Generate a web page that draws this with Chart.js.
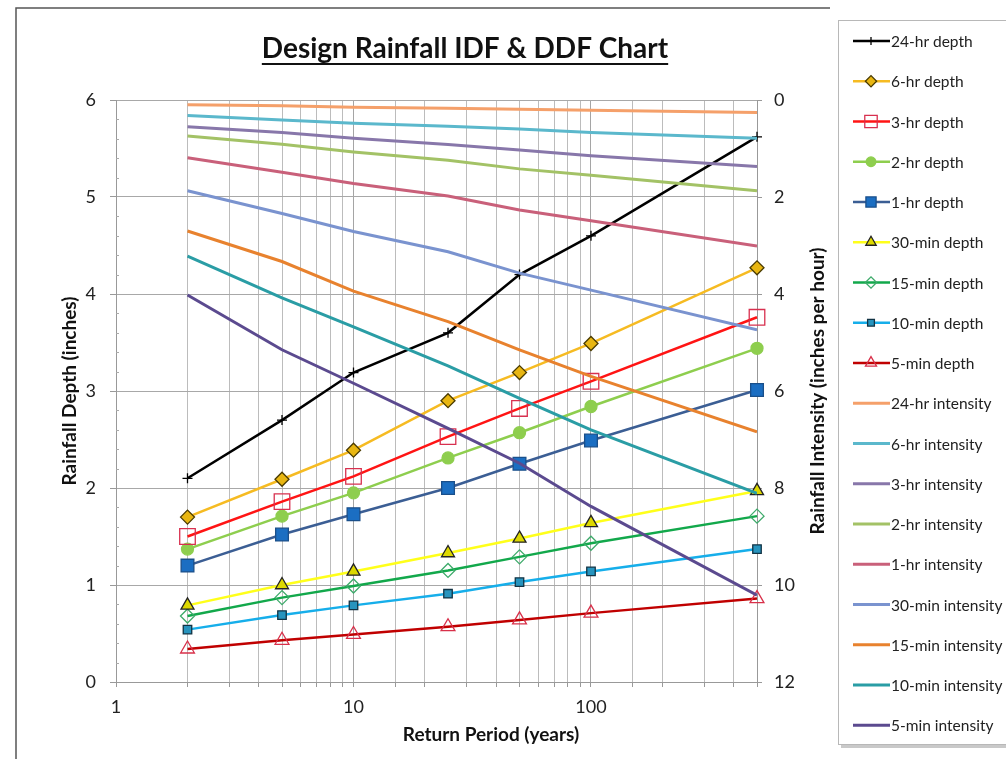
<!DOCTYPE html>
<html>
<head>
<meta charset="utf-8">
<script src="https://cdn.jsdelivr.net/npm/chart.js@4.4.1/dist/chart.umd.min.js"></script>
<style>
  html, body { margin: 0; padding: 0; background: #fff; }
  #wrap { position: relative; width: 1006px; height: 759px; }
</style>
</head>
<body>
<div id="wrap"><canvas id="idf" width="1006" height="759"></canvas></div>
<script>
// return periods (years) shared by every series
const returnPeriods = [2, 5, 10, 25, 50, 100, 500]
const xTickLabels = [1, 10, 100]

// rainfall depth (inches), left axis
const depth24hr = [2.1, 2.7, 3.19, 3.6, 4.2, 4.6, 5.62]
const depth6hr = [1.7, 2.09, 2.39, 2.9, 3.19, 3.49, 4.27]
const depth3hr = [1.5, 1.86, 2.12, 2.53, 2.82, 3.1, 3.76]
const depth2hr = [1.37, 1.71, 1.95, 2.31, 2.57, 2.84, 3.44]
const depth1hr = [1.2, 1.52, 1.73, 2.0, 2.25, 2.49, 3.01]
const depth30min = [0.79, 1.0, 1.14, 1.33, 1.48, 1.64, 1.97]
const depth15min = [0.68, 0.87, 0.99, 1.15, 1.29, 1.43, 1.71]
const depth10min = [0.54, 0.69, 0.79, 0.91, 1.03, 1.14, 1.37]
const depth5min = [0.34, 0.43, 0.49, 0.57, 0.64, 0.71, 0.86]

// rainfall intensity (inches per hour), right axis (reversed)
const int24hr = [0.1, 0.12, 0.15, 0.17, 0.19, 0.21, 0.26]
const int6hr = [0.32, 0.41, 0.48, 0.54, 0.6, 0.67, 0.79]
const int3hr = [0.55, 0.67, 0.79, 0.92, 1.03, 1.15, 1.37]
const int2hr = [0.74, 0.91, 1.07, 1.24, 1.42, 1.55, 1.87]
const int1hr = [1.19, 1.49, 1.72, 1.98, 2.27, 2.49, 3.01]
const int30min = [1.87, 2.34, 2.71, 3.13, 3.57, 3.92, 4.74]
const int15min = [2.7, 3.33, 3.94, 4.57, 5.15, 5.7, 6.84]
const int10min = [3.22, 4.08, 4.68, 5.48, 6.15, 6.8, 8.11]
const int5min = [4.02, 5.15, 5.84, 6.77, 7.49, 8.38, 10.21]

const FONT = 'Lato, "Open Sans", sans-serif'

function pts(arr) {
  return returnPeriods.map((p, i) => ({ x: p, y: arr[i] }))
}

function depthSet(label, values, line, style, radius, fill, border) {
  return {
    label: label,
    data: pts(values),
    yAxisID: 'y',
    order: 1,
    clip: 14,
    borderColor: line,
    borderWidth: 2.5,
    pointStyle: style,
    pointRadius: radius,
    pointBackgroundColor: fill,
    pointBorderColor: border,
    pointBorderWidth: 1.3
  }
}

function intensitySet(label, values, line) {
  return {
    label: label,
    data: pts(values),
    yAxisID: 'y2',
    order: 0,
    borderColor: line,
    borderWidth: 3,
    pointRadius: 0
  }
}

const datasets = [
  depthSet('24-hr depth', depth24hr, '#000000', 'cross', 5, '#000', '#000'),
  depthSet('6-hr depth', depth6hr, '#F6BB22', 'rectRot', 7, '#E8B612', '#4a3b00'),
  depthSet('3-hr depth', depth3hr, '#FF1414', 'rect', 11, 'rgba(255,255,255,0)', '#D8304F'),
  depthSet('2-hr depth', depth2hr, '#8ECE4E', 'circle', 6, '#8ECE4E', '#8ECE4E'),
  depthSet('1-hr depth', depth1hr, '#3B5E94', 'rect', 9, '#1B6EC2', '#1a4f8a'),
  depthSet('30-min depth', depth30min, '#FFFF1A', 'triangle', 7.5, '#DDD800', '#222'),
  depthSet('15-min depth', depth15min, '#12A84B', 'rectRot', 7, 'rgba(255,255,255,0)', '#3DAA6A'),
  depthSet('10-min depth', depth10min, '#16AEEA', 'rect', 6, '#2794BE', '#113344'),
  depthSet('5-min depth', depth5min, '#C00000', 'triangle', 8, 'rgba(255,255,255,0)', '#D8304A'),
  intensitySet('24-hr intensity', int24hr, '#F5A06A'),
  intensitySet('6-hr intensity', int6hr, '#5BB8CC'),
  intensitySet('3-hr intensity', int3hr, '#8877AA'),
  intensitySet('2-hr intensity', int2hr, '#A3C266'),
  intensitySet('1-hr intensity', int1hr, '#C9607A'),
  intensitySet('30-min intensity', int30min, '#7A93CF'),
  intensitySet('15-min intensity', int15min, '#E8822E'),
  intensitySet('10-min intensity', int10min, '#2A9DA5'),
  intensitySet('5-min intensity', int5min, '#5B4A8F')
]

// frame, title, axis titles and the boxed legend
const decor = {
  id: 'decor',
  afterDraw(chart) {
    const ctx = chart.ctx
    const area = chart.chartArea
    ctx.save()

    // outer chart frame (left + top)
    ctx.strokeStyle = '#555'
    ctx.lineWidth = 1.5
    ctx.beginPath()
    ctx.moveTo(16, 759)
    ctx.lineTo(16, 8)
    ctx.lineTo(830, 8)
    ctx.stroke()

    // minor ticks on the depth axis
    const yScale = chart.scales.y
    ctx.strokeStyle = '#aaa'
    ctx.lineWidth = 1
    for (let v = 0.2; v < 6; v += 0.2) {
      if (Math.abs(v - Math.round(v)) < 0.01) continue
      const py = Math.round(yScale.getPixelForValue(v)) + 0.5
      ctx.beginPath()
      ctx.moveTo(area.left, py)
      ctx.lineTo(area.left + 3, py)
      ctx.stroke()
    }

    // title, underlined
    ctx.fillStyle = '#111'
    ctx.font = 'bold 28px ' + FONT
    ctx.textAlign = 'center'
    ctx.textBaseline = 'alphabetic'
    const title = 'Design Rainfall IDF & DDF Chart'
    ctx.fillText(title, 465, 58)
    const tw = ctx.measureText(title).width
    ctx.fillRect(465 - tw / 2, 63, tw, 2)

    // axis titles
    ctx.font = 'bold 19px ' + FONT
    ctx.textBaseline = 'middle'
    ctx.fillText('Return Period (years)', 491, 735)
    ctx.save()
    ctx.translate(70, 391)
    ctx.rotate(-Math.PI / 2)
    ctx.fillText('Rainfall Depth (inches)', 0, 0)
    ctx.restore()
    ctx.save()
    ctx.translate(818, 391)
    ctx.rotate(-Math.PI / 2)
    ctx.fillText('Rainfall Intensity (inches per hour)', 0, 0)
    ctx.restore()

    // legend box with soft shadow
    ctx.fillStyle = '#c9c9c9'
    ctx.fillRect(841, 744, 170, 4)
    ctx.fillStyle = '#fff'
    ctx.fillRect(838.5, 20.5, 180, 724)
    ctx.strokeStyle = '#b8b8b8'
    ctx.lineWidth = 1
    ctx.strokeRect(838.5, 20.5, 180, 724)

    ctx.font = '15.5px ' + FONT
    ctx.textAlign = 'left'
    ctx.textBaseline = 'middle'
    chart.data.datasets.forEach((ds, i) => {
      const y = 41 + i * 40.25
      ctx.strokeStyle = ds.borderColor
      ctx.lineWidth = ds.borderWidth
      ctx.beginPath()
      ctx.moveTo(853, y)
      ctx.lineTo(890, y)
      ctx.stroke()
      if (ds.pointRadius > 0) {
        ctx.fillStyle = ds.pointBackgroundColor
        ctx.strokeStyle = ds.pointBorderColor
        ctx.lineWidth = ds.pointBorderWidth
        Chart.helpers.drawPoint(ctx, {
          pointStyle: ds.pointStyle,
          radius: ds.pointRadius * 0.8,
          rotation: 0,
          borderWidth: ds.pointBorderWidth
        }, 871, y)
      }
      ctx.fillStyle = '#222'
      ctx.fillText(ds.label, 891, y + 1)
    })

    ctx.restore()
  }
}

const gridGray = '#bcbcbc'
const tickFont = { family: FONT, size: 18 }

new Chart(document.getElementById('idf'), {
  type: 'line',
  data: { datasets: datasets },
  options: {
    responsive: false,
    animation: false,
    events: [],
    layout: { padding: { left: 20, right: 176, top: 100, bottom: 0 } },
    plugins: {
      legend: { display: false },
      title: { display: false },
      tooltip: { enabled: false }
    },
    elements: { line: { tension: 0 } },
    scales: {
      x: {
        type: 'logarithmic',
        min: 1,
        max: 500,
        grid: {
          color: (c) => xTickLabels.includes(c.tick && c.tick.value) ? '#a5a5a5' : gridGray,
          tickLength: 5,
          tickColor: '#999'
        },
        border: { color: '#999' },
        ticks: {
          autoSkip: false,
          maxRotation: 0,
          padding: 9,
          color: '#222',
          font: tickFont,
          callback: (value) => xTickLabels.includes(value) ? String(value) : ''
        },
        afterFit: (scale) => { scale.height = 77 }
      },
      y: {
        position: 'left',
        min: 0,
        max: 6,
        grid: { color: '#a8a8a8', tickLength: 6, tickColor: '#999' },
        border: { color: '#999' },
        ticks: {
          stepSize: 1,
          padding: 14,
          color: '#222',
          font: tickFont
        },
        afterFit: (scale) => { scale.width = 96 }
      },
      y2: {
        position: 'right',
        reverse: true,
        min: 0,
        max: 12,
        grid: { drawOnChartArea: false, tickLength: 5, tickColor: '#999' },
        border: { color: '#999' },
        ticks: {
          stepSize: 2,
          padding: 12,
          color: '#222',
          font: tickFont
        },
        afterFit: (scale) => { scale.width = 73 }
      }
    }
  },
  plugins: [decor]
})
</script>
</body>
</html>
